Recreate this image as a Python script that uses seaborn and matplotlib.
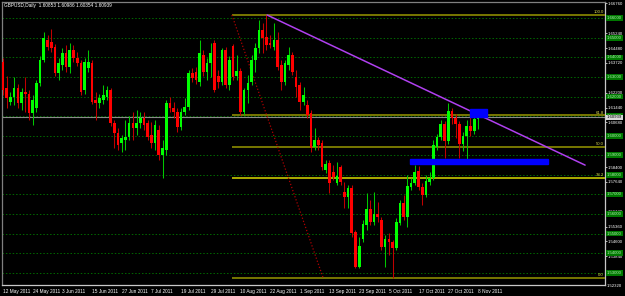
import matplotlib
matplotlib.use("Agg")
import matplotlib.pyplot as plt
from matplotlib.patches import Rectangle
import numpy as np
import pandas as pd
import seaborn as sns

# ---------------- data (GBPUSD daily) ----------------
opens = [1.6377, 1.6244, 1.6172, 1.6198, 1.6244, 1.6167, 1.6224, 1.6213, 1.6116, 1.6142,
         1.6270, 1.6387, 1.6489, 1.6479, 1.6454, 1.6321, 1.6361, 1.6423, 1.6351, 1.6438,
         1.6397, 1.6372, 1.6234, 1.6346, 1.6372, 1.6183, 1.6167, 1.6183, 1.6198, 1.6234,
         1.6065, 1.6014, 1.5963, 1.5979, 1.5994, 1.6065, 1.6040, 1.6065, 1.6091, 1.6065,
         1.6004, 1.5963, 1.6030, 1.5902, 1.5928, 1.6167, 1.6142, 1.6121, 1.6045, 1.6121,
         1.6147, 1.6321, 1.6326, 1.6275, 1.6413, 1.6326, 1.6372, 1.6474, 1.6305, 1.6275,
         1.6438, 1.6259, 1.6459, 1.6305, 1.6331, 1.6121, 1.6234, 1.6275, 1.6387, 1.6448,
         1.6540, 1.6505, 1.6474, 1.6454, 1.6489, 1.6361, 1.6275, 1.6361, 1.6413, 1.6300,
         1.6259, 1.6172, 1.6157, 1.6116, 1.5943, 1.5979, 1.5963, 1.5826, 1.5861, 1.5815,
         1.5759, 1.5840, 1.5713, 1.5687, 1.5733, 1.5508, 1.5329, 1.5472, 1.5544, 1.5626,
         1.5559, 1.5600, 1.5570, 1.5432, 1.5472, 1.5457, 1.5426, 1.5554, 1.5656, 1.5585,
         1.5738, 1.5759, 1.5820, 1.5738, 1.5698, 1.5764, 1.5784, 1.5945, 1.5995, 1.6060,
         1.5975, 1.6125, 1.6090, 1.6060, 1.5960, 1.6000, 1.6050, 1.6025, 1.60853]
highs = [1.6397, 1.6305, 1.6224, 1.6300, 1.6265, 1.6244, 1.6300, 1.6234, 1.6208, 1.6285,
         1.6408, 1.6530, 1.6515, 1.6546, 1.6469, 1.6397, 1.6448, 1.6464, 1.6474, 1.6464,
         1.6428, 1.6387, 1.6397, 1.6438, 1.6387, 1.6224, 1.6213, 1.6259, 1.6254, 1.6244,
         1.6080, 1.6040, 1.6004, 1.6080, 1.6101, 1.6121, 1.6132, 1.6121, 1.6121, 1.6080,
         1.6070, 1.6080, 1.6055, 1.5979, 1.6183, 1.6198, 1.6172, 1.6142, 1.6142, 1.6193,
         1.6336, 1.6346, 1.6351, 1.6489, 1.6438, 1.6397, 1.6474, 1.6489, 1.6336, 1.6448,
         1.6454, 1.6408, 1.6469, 1.6413, 1.6346, 1.6244, 1.6310, 1.6413, 1.6474, 1.6592,
         1.6576, 1.6617, 1.6515, 1.6576, 1.6530, 1.6387, 1.6387, 1.6454, 1.6428, 1.6336,
         1.6275, 1.6249, 1.6183, 1.6132, 1.6040, 1.5994, 1.5979, 1.5877, 1.5877, 1.5851,
         1.5866, 1.5851, 1.5764, 1.5749, 1.5749, 1.5519, 1.5483, 1.5570, 1.5707, 1.5672,
         1.5713, 1.5661, 1.5585, 1.5493, 1.5503, 1.5467, 1.5580, 1.5672, 1.5698, 1.5800,
         1.5784, 1.5851, 1.5845, 1.5759, 1.5800, 1.5815, 1.5979, 1.6010, 1.6080, 1.6075,
         1.6166, 1.6140, 1.6110, 1.6075, 1.6020, 1.6080, 1.6108, 1.6095, 1.60986]
lows = [1.6208, 1.6142, 1.6157, 1.6157, 1.6142, 1.6132, 1.6121, 1.6080, 1.6055, 1.6121,
        1.6254, 1.6377, 1.6438, 1.6428, 1.6305, 1.6285, 1.6336, 1.6326, 1.6321, 1.6377,
        1.6356, 1.6208, 1.6213, 1.6326, 1.6162, 1.6080, 1.6142, 1.6162, 1.6183, 1.6050,
        1.5938, 1.5928, 1.5917, 1.5928, 1.5979, 1.5979, 1.6004, 1.6040, 1.6030, 1.5979,
        1.5938, 1.5928, 1.5877, 1.5784, 1.5902, 1.6121, 1.6091, 1.6019, 1.6030, 1.6106,
        1.6132, 1.6275, 1.6265, 1.6254, 1.6305, 1.6285, 1.6300, 1.6224, 1.6244, 1.6259,
        1.6244, 1.6234, 1.6285, 1.6285, 1.6106, 1.6106, 1.6167, 1.6259, 1.6326, 1.6423,
        1.6423, 1.6438, 1.6448, 1.6438, 1.6336, 1.6234, 1.6259, 1.6336, 1.6310, 1.6198,
        1.6132, 1.6157, 1.6091, 1.5917, 1.5928, 1.5928, 1.5826, 1.5810, 1.5707, 1.5774,
        1.5749, 1.5749, 1.5631, 1.5631, 1.5483, 1.5324, 1.5324, 1.5457, 1.5519, 1.5544,
        1.5544, 1.5559, 1.5416, 1.5329, 1.5391, 1.5273, 1.5416, 1.5544, 1.5570, 1.5534,
        1.5723, 1.5749, 1.5723, 1.5646, 1.5687, 1.5749, 1.5774, 1.5925, 1.5980, 1.5887,
        1.5960, 1.6060, 1.5990, 1.5887, 1.5920, 1.5872, 1.6000, 1.6010, 1.60354]
closes = [1.6234, 1.6193, 1.6198, 1.6244, 1.6167, 1.6224, 1.6213, 1.6116, 1.6183, 1.6270,
          1.6387, 1.6500, 1.6454, 1.6448, 1.6321, 1.6372, 1.6423, 1.6351, 1.6438, 1.6397,
          1.6372, 1.6224, 1.6377, 1.6377, 1.6172, 1.6167, 1.6193, 1.6208, 1.6234, 1.6065,
          1.6014, 1.5953, 1.5988, 1.5994, 1.6065, 1.6040, 1.6065, 1.6091, 1.6055, 1.5994,
          1.5963, 1.6055, 1.5902, 1.5938, 1.6167, 1.6142, 1.6121, 1.6045, 1.6121, 1.6147,
          1.6321, 1.6295, 1.6285, 1.6423, 1.6326, 1.6372, 1.6423, 1.6234, 1.6275, 1.6438,
          1.6259, 1.6387, 1.6300, 1.6331, 1.6121, 1.6234, 1.6270, 1.6387, 1.6448, 1.6540,
          1.6500, 1.6464, 1.6464, 1.6489, 1.6351, 1.6275, 1.6372, 1.6413, 1.6326, 1.6249,
          1.6172, 1.6208, 1.6106, 1.5938, 1.5979, 1.5953, 1.5840, 1.5856, 1.5759, 1.5789,
          1.5794, 1.5764, 1.5687, 1.5733, 1.5503, 1.5329, 1.5437, 1.5549, 1.5626, 1.5559,
          1.5600, 1.5585, 1.5432, 1.5472, 1.5457, 1.5426, 1.5559, 1.5656, 1.5585, 1.5743,
          1.5759, 1.5815, 1.5738, 1.5698, 1.5769, 1.5784, 1.5953, 1.5995, 1.6060, 1.5975,
          1.6125, 1.6090, 1.6060, 1.5960, 1.6000, 1.6050, 1.6025, 1.6085, 1.60939]

date_labels = ["12 May 2011", "24 May 2011", "3 Jun 2011", "15 Jun 2011", "27 Jun 2011",
               "7 Jul 2011", "19 Jul 2011", "29 Jul 2011", "10 Aug 2011", "22 Aug 2011",
               "1 Sep 2011", "13 Sep 2011", "23 Sep 2011", "5 Oct 2011", "17 Oct 2011",
               "27 Oct 2011", "8 Nov 2011"]
bars_per_label = 8

price_labels = [1.66760, 1.65240, 1.64480, 1.63720, 1.62200, 1.61440, 1.60680,
                1.58400, 1.57640, 1.56120, 1.55360, 1.54600, 1.53840, 1.52320]
grid_levels = [1.66, 1.65, 1.64, 1.63, 1.62, 1.61, 1.60, 1.59, 1.58, 1.57,
               1.56, 1.55, 1.54, 1.53]

title_text = "GBPUSD,Daily  1.60853 1.60986 1.60354 1.60939"

# drawn objects
fib_high = 1.6617
fib_low = 1.5273
fib_ratios = [100.0, 61.8, 50.0, 38.2, 0.0]
fib_start_bar = 61.7
fib_diag_bars = [61.7, 86.3]
trend_bars = [71.2, 156.9]
trend_prices = [1.6617, 1.5850]
blue_boxes_bars = [(109.7, 146.9), (125.9, 130.5)]
blue_boxes_prices = [(1.5856, 1.5881), (1.6096, 1.6137)]

# ---------------- styling ----------------
sns.set_theme(style="dark", rc={"axes.facecolor": "#000000",
                                "figure.facecolor": "#000000",
                                "axes.grid": False})
plt.rcParams["font.family"] = ["Liberation Sans", "DejaVu Sans"]

df = pd.DataFrame({"open": opens, "high": highs, "low": lows, "close": closes})
df["bar"] = np.arange(len(df))
df["up"] = df["close"] >= df["open"]

W, H = 625, 296
fig = plt.figure(figsize=(W / 100, H / 100), dpi=100)
ax = fig.add_axes([2 / W, (H - 285) / H, 603 / W, 283 / H])
ax.set_facecolor("black")
ax.set_xlim(-0.27, 162.26)
ax.set_ylim(1.52374, 1.66835)

FS = 3.4
FSR = 3.05

# grid
for lvl in grid_levels:
    ax.axhline(lvl, color="#006a00", lw=0.7, ls=(0, (1.5, 2.0)), zorder=1)

# bid line
ax.axhline(closes[-1], color="#8a8a8a", lw=0.8, zorder=2)

# fibonacci
for r in fib_ratios:
    lvl = fib_low + (fib_high - fib_low) * r / 100.0
    col = "#c8c800" if r == 38.2 else "#8c8c00"
    ax.hlines(lvl, fib_start_bar, 162.26, color=col, lw=1.2, zorder=3)
    ax.text(161.9, lvl + 0.0003, f"{r:.1f}", ha="right", va="bottom",
            color="#d8d850", fontsize=FSR, zorder=6)
ax.plot(fib_diag_bars, [fib_high, fib_low], color="#b00000", lw=0.9,
        ls=(0, (1, 1.6)), zorder=3)

# candles
up = df[df["up"]]
dn = df[~df["up"]]
ax.vlines(up["bar"], up["low"], up["high"], color="#00c800", lw=0.75, zorder=4)
ax.vlines(dn["bar"], dn["low"], dn["high"], color="#c00000", lw=0.75, zorder=4)
body_min = 0.00035
ax.bar(up["bar"], np.maximum(up["close"] - up["open"], body_min), bottom=up["open"],
       width=0.72, color="#00ff00", linewidth=0, zorder=5)
ax.bar(dn["bar"], np.maximum(dn["open"] - dn["close"], body_min), bottom=dn["close"],
       width=0.72, color="#ff0000", linewidth=0, zorder=5)

# trend line
ax.plot(trend_bars, trend_prices, color="#b040f0", lw=1.1, zorder=6)

# blue rectangles
for (b0, b1), (p0, p1) in zip(blue_boxes_bars, blue_boxes_prices):
    ax.add_patch(Rectangle((b0, p0), b1 - b0, p1 - p0, color="#0000ff", zorder=7))

# right price axis
ax.yaxis.tick_right()
ymin, ymax = ax.get_ylim()
inrange = [p for p in price_labels if ymin <= p <= ymax]
ax.set_yticks(inrange)
ax.set_yticklabels([f"{p:.5f}" for p in inrange])
for p in price_labels:
    if not (ymin <= p <= ymax):
        ax.annotate(f"{p:.5f}", xy=(1.0, p), xycoords=("axes fraction", "data"),
                    xytext=(1.4, 0), textcoords="offset points", va="center",
                    ha="left", color="white", fontsize=FSR, annotation_clip=False)
ax.tick_params(axis="y", colors="white", labelsize=FSR, length=1.2, width=0.5, pad=0.4)

for lvl in grid_levels:
    ax.annotate(f"{lvl:.5f}", xy=(1.0, lvl), xycoords=("axes fraction", "data"),
                xytext=(1.4, 0), textcoords="offset points", va="center", ha="left",
                color="#b0f0b0", fontsize=FSR, annotation_clip=False,
                bbox=dict(boxstyle="square,pad=0.2", fc="#007800", ec="none"))
ax.annotate(f"{closes[-1]:.5f}", xy=(1.0, closes[-1]), xycoords=("axes fraction", "data"),
            xytext=(1.4, 0), textcoords="offset points", va="center", ha="left",
            color="black", fontsize=FSR, annotation_clip=False,
            bbox=dict(boxstyle="square,pad=0.2", fc="#d8d8d8", ec="none"))

# bottom date axis
xt = np.arange(len(date_labels)) * bars_per_label
ax.set_xticks(xt)
ax.set_xticklabels(date_labels)
for t in ax.get_xticklabels():
    t.set_ha("left")
ax.tick_params(axis="x", colors="white", labelsize=FS, length=2, width=0.5, pad=1.0)

for side, col in [("top", "#808080"), ("left", "#808080"),
                  ("right", "#c8c8c8"), ("bottom", "#c8c8c8")]:
    ax.spines[side].set_visible(True)
    ax.spines[side].set_color(col)
    ax.spines[side].set_linewidth(0.9)

fig.text(4 / W, 1 - 5.5 / H, title_text, color="white", fontsize=FS, va="center", ha="left")

fig.savefig("out.png", dpi=100, facecolor="black")
